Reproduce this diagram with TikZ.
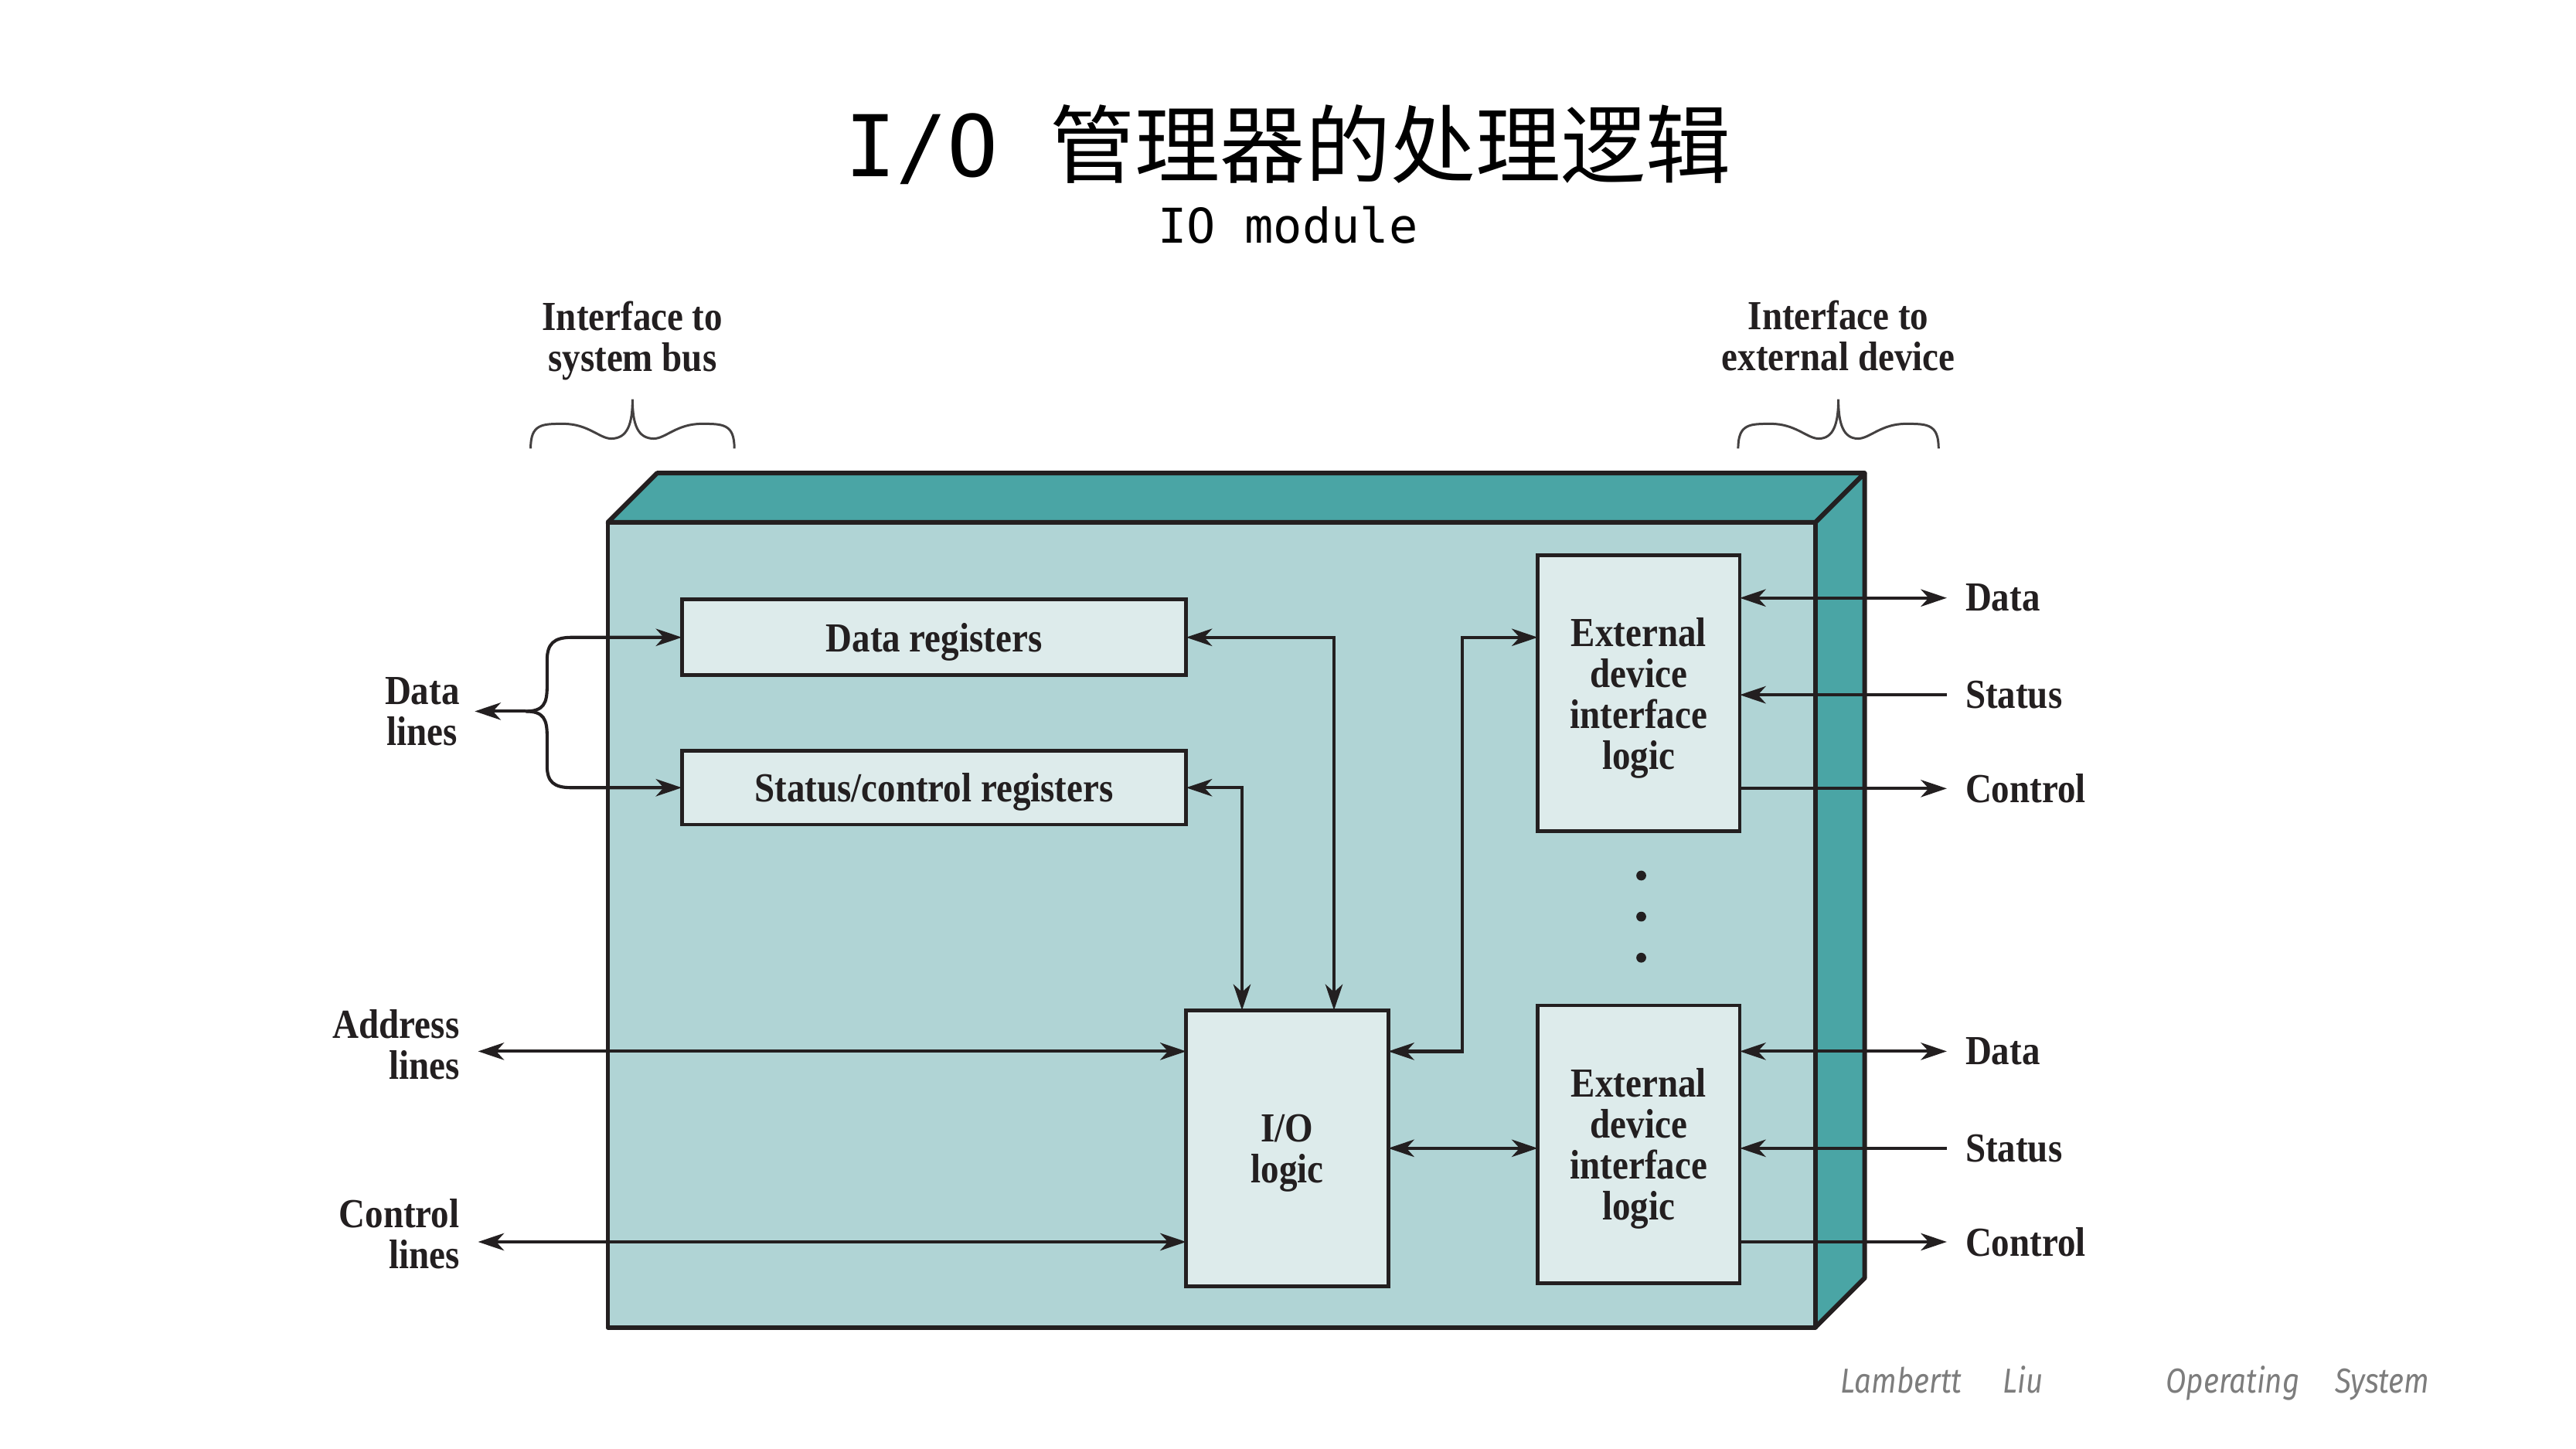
\documentclass[tikz,border=0pt]{standalone}
\usepackage{fontspec}
\setmainfont{Liberation Serif}
\newfontfamily\figf{Liberation Serif}[FakeStretch=0.88]
\newfontfamily\cjk{Noto Sans CJK SC}
\newfontfamily\monof{DejaVu Sans Mono}
\newfontfamily\footf{Fira Sans}[FakeStretch=0.86]
\usetikzlibrary{arrows.meta}
\definecolor{frontc}{RGB}{176,212,213}
\definecolor{sidec}{RGB}{74,165,165}
\definecolor{boxc}{RGB}{221,235,235}
\definecolor{linec}{RGB}{35,31,32}
\definecolor{footc}{RGB}{125,125,125}
\begin{document}
\begin{tikzpicture}[x=0.02cm,y=-0.02cm,
  >={Stealth[length=9pt,width=6pt,inset=2.7pt]},
  figtext/.style={font=\figf\bfseries\fontsize{14.3}{14.2}\selectfont, text=linec},
  blk/.style={figtext, draw=linec, fill=boxc, line width=1.3pt, inner sep=0pt, outer sep=0pt, align=center, text depth=0pt},
  conn/.style={draw=linec, line width=1.1pt},
  lbl/.style={figtext, inner sep=0pt, align=center},
  bodyline/.style={draw=linec, line width=1.6pt, line join=round},
  brc/.style={draw=linec!85, line width=0.8pt},
  foot/.style={font=\footf\itshape\fontsize{12}{14}\selectfont, text=footc, inner sep=0pt}]
\useasboundingbox (0,0) rectangle (1568,882);
\fill[white] (0,0) rectangle (1568,882);

% titles
\node[font=\fontsize{29.5}{32}\selectfont, inner sep=0pt] (title) at (784,88) {{\monof I/O }{\cjk 管理器的处理逻辑}};
\node[font=\monof\fontsize{16.6}{18}\selectfont, inner sep=0pt] (subtitle) at (784,137) {IO module};

% interface labels and braces
\node[lbl] (ifbus) at (385,207.5) {Interface to\\system bus};
\node[lbl] (ifdev) at (1119,204.5) {Interface to\\external device};
\draw[brc] (323,273) .. controls (323,258) and (330,258) .. (343,258)
  .. controls (358,258) and (365,267) .. (372,267)
  .. controls (382,267) and (385,258) .. (385,243)
  .. controls (385,258) and (388,267) .. (398,267)
  .. controls (405,267) and (412,258) .. (427,258)
  .. controls (440,258) and (447,258) .. (447,273);
\draw[brc] (1058,273) .. controls (1058,258) and (1065,258) .. (1078,258)
  .. controls (1093,258) and (1100,267) .. (1107,267)
  .. controls (1116,267) and (1119,258) .. (1119,243)
  .. controls (1119,258) and (1122,267) .. (1131,267)
  .. controls (1138,267) and (1145,258) .. (1160,258)
  .. controls (1173,258) and (1180,258) .. (1180,273);

% 3D module body
\filldraw[bodyline, fill=sidec] (370,318) -- (400,288) -- (1135,288) -- (1105,318) -- cycle;
\filldraw[bodyline, fill=sidec] (1105,318) -- (1135,288) -- (1135,778) -- (1105,808) -- cycle;
\filldraw[bodyline, fill=frontc] (370,318) rectangle (1105,808);

% inner blocks
\node[blk, minimum width=6.14cm, minimum height=0.92cm] (dr) at (568.5,388) {Data registers};
\node[blk, minimum width=6.14cm, minimum height=0.90cm] (sr) at (568.5,479.5) {Status/control registers};
\node[blk, minimum width=2.46cm, minimum height=3.36cm] (io) at (783.5,699) {I/O\\logic};
\node[blk, minimum width=2.46cm, minimum height=3.36cm] (e1) at (997.5,422) {External\\device\\interface\\logic};
\node[blk, minimum width=2.46cm, minimum height=3.38cm] (e2) at (997.5,696.5) {External\\device\\interface\\logic};

% dots
\foreach \yy/\nm in {533/da,558/db,583/dc}
  \fill[linec] (999,\yy) circle[radius=3] coordinate (\nm);

% left labels
\node[lbl] (datalbl) at (257,433) {Data\\lines};
\node[lbl, align=right, anchor=east] (addrlbl) at (280,636) {Address\\lines};
\node[lbl, align=right, anchor=east] (ctllbl) at (280,751) {Control\\lines};

% left connectors
\coordinate (j) at (320,433);
\coordinate (dl) at (289,433);
\coordinate (addr) at (291,640);
\coordinate (ctl) at (291,756);
\draw[conn,->] (j) -- (dl);
\draw[conn,->] (j) .. controls (331,433) and (333,428) .. (333,418) -- (333,402)
  .. controls (333,392) and (337,388) .. (348,388) -- (dr.west);
\draw[conn,->] (j) .. controls (331,433) and (333,438) .. (333,448) -- (333,466)
  .. controls (333,476) and (337,479.5) .. (348,479.5) -- (sr.west);
\draw[conn,<->] (addr) -- (addr -| io.west);
\draw[conn,<->] (ctl) -- (ctl -| io.west);

% internal connectors
\draw[conn,<->] (dr.east) -| ([xshift=0.57cm]io.north);
\draw[conn,<->] (sr.east) -| ([xshift=-0.55cm]io.north);
\draw[conn,<->] ([yshift=1.18cm]io.east) -| ([xshift=-0.92cm,yshift=0.68cm]e1.west) -- ([yshift=0.68cm]e1.west);
\draw[conn,<->] (io.east) -- (io.east -| e2.west);

% right connectors
\coordinate (d1) at (1185,364);
\coordinate (s1) at (1185,423);
\coordinate (c1) at (1185,480);
\coordinate (d2) at (1185,640);
\coordinate (s2) at (1185,699);
\coordinate (c2) at (1185,756);
\draw[conn,<->] (e1.east |- d1) -- (d1);
\draw[conn,->] (s1) -- (e1.east |- s1);
\draw[conn,->] (e1.east |- c1) -- (c1);
\draw[conn,<->] (e2.east |- d2) -- (d2);
\draw[conn,->] (s2) -- (e2.east |- s2);
\draw[conn,->] (e2.east |- c2) -- (c2);

\node[lbl, anchor=west] (ld1) at (1196,364) {Data};
\node[lbl, anchor=west] (ls1) at (1196,423) {Status};
\node[lbl, anchor=west] (lc1) at (1196,480) {Control};
\node[lbl, anchor=west] (ld2) at (1196,640) {Data};
\node[lbl, anchor=west] (ls2) at (1196,699) {Status};
\node[lbl, anchor=west] (lc2) at (1196,756) {Control};

% footer
\node[foot, anchor=base west] (f1) at (1120,848) {Lambertt};
\node[foot, anchor=base west] (f2) at (1219,848) {Liu};
\node[foot, anchor=base west] (f3) at (1318,848) {Operating};
\node[foot, anchor=base west] (f4) at (1421,848) {System};
\end{tikzpicture}
\end{document}
